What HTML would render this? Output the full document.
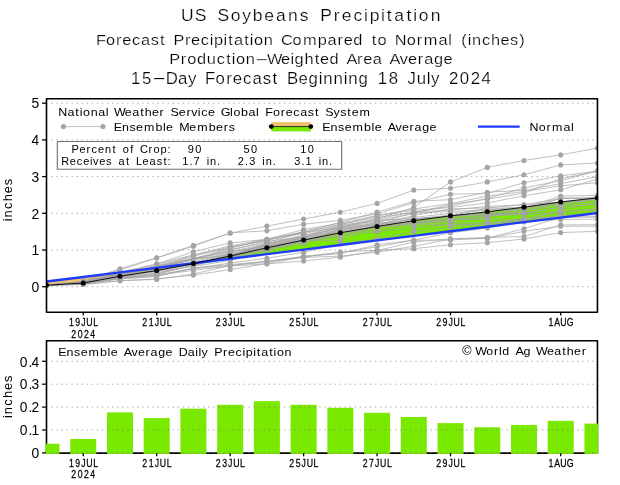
<!DOCTYPE html>
<html><head><meta charset="utf-8"><title>US Soybeans Precipitation</title>
<style>html,body{margin:0;padding:0;background:#fff}svg{display:block}</style></head>
<body>
<div style="will-change:transform;width:620px;height:485px;overflow:hidden">
<svg width="620" height="485" viewBox="0 0 620 485" font-family="'Liberation Sans', sans-serif" fill="#000">
<rect width="620" height="485" fill="#fff"/>
<text transform="scale(1.1,1)" x="170.36 182.37 192.67 202.96 214.11 224.12 234.12 244.70 255.28 266.14 276.44 285.87 296.45 306.17 315.04 325.33 332.76 340.48 348.20 353.92 362.78 371.65 377.36 385.08 395.95" y="20.80" font-size="15.9" text-anchor="middle" fill="#000" stroke="#fff" stroke-width="0.22">US Soybeans Precipitation</text>
<text transform="scale(1.12,1)" x="90.21 98.70 106.04 113.15 121.41 129.90 138.16 144.82 151.24 159.73 167.54 174.65 182.91 188.88 195.07 201.27 205.86 212.97 220.08 224.67 230.87 239.59 247.62 256.11 265.29 276.53 287.77 296.49 303.84 310.95 319.44 327.47 333.90 341.01 349.04 357.76 367.17 374.51 384.38 395.62 401.82 407.33 414.21 419.26 425.45 433.94 442.43 450.92 458.96 466.07" y="44.70" font-size="14.6" text-anchor="middle" fill="#000" stroke="#fff" stroke-width="0.22">Forecast Precipitation Compared to Normal (inches)</text>
<text transform="scale(1.12,1)" x="156.06 163.86 171.21 179.93 188.65 197.14 204.02 208.61 214.81 223.52 233.85 245.32 254.96 260.93 267.12 275.84 282.96 289.84 298.33 306.36 314.16 321.28 328.39 336.88 344.91 352.71 360.52 368.32 375.43 382.77 391.49 399.98" y="64.00" font-size="14.6" text-anchor="middle" fill="#000" stroke="#fff" stroke-width="0.22">Production<tspan font-size="16.4" dy="-0.47">–</tspan><tspan dy="0.47">Weighted Area Average</tspan></text>
<text transform="scale(1.05,1)" x="129.26 139.61 151.52 163.68 174.03 183.09 191.37 200.17 209.75 218.03 226.05 235.37 244.95 254.26 261.77 269.02 278.59 288.69 298.26 305.25 312.24 322.07 329.06 336.05 345.88 354.94 364.26 374.61 383.93 392.21 401.27 408.26 414.47 422.75 432.07 442.42 452.77 463.12" y="84.30" font-size="16.0" text-anchor="middle" fill="#000" stroke="#fff" stroke-width="0.22">15<tspan font-size="17.5" dy="-0.79">–</tspan><tspan dy="0.79">Day Forecast Beginning 18 July 2024</tspan></text>
<clipPath id="c1"><rect x="46.5" y="98.75" width="551.5500000000001" height="213.45"/></clipPath>
<g clip-path="url(#c1)">
<polygon points="46.50,281.56 83.23,276.99 119.96,272.42 156.69,267.85 193.42,263.28 197.13,262.82 193.42,263.58 156.69,270.55 119.96,276.24 83.23,283.03 46.50,285.23" fill="#f0c070"/>
<polygon points="197.13,262.82 230.15,256.06 266.88,247.80 303.61,240.09 340.34,232.75 377.07,226.51 413.80,220.64 450.53,215.87 487.26,211.83 523.99,207.24 560.72,201.92 597.45,197.89 597.45,213.01 560.72,217.58 523.99,222.15 487.26,226.72 450.53,231.29 413.80,235.86 377.07,240.43 340.34,245.00 303.61,249.57 266.88,254.14 230.15,258.71" fill="#7ae900"/>
</g>
<g clip-path="url(#c1)">
<g fill="none" stroke="#a5a5a5" stroke-width="0.7">
<polyline points="46.5,285.2 83.2,283.4 120.0,277.5 156.7,271.3 193.4,263.9 230.2,255.5 266.9,246.3 303.6,237.2 340.3,228.0 377.1,218.8 413.8,207.4 450.5,181.9 487.3,167.4 524.0,160.5 560.7,154.9 597.5,148.0"/>
<polyline points="46.5,285.2 83.2,281.2 120.0,268.7 156.7,257.7 193.4,245.4 230.2,233.2 266.9,226.1 303.6,219.0 340.3,212.2 377.1,203.4 413.8,190.0 450.5,188.3 487.3,181.9 524.0,174.8 560.7,164.9 597.5,163.0"/>
<polyline points="46.5,285.2 83.2,281.5 120.0,269.9 156.7,258.1 193.4,246.2 230.2,232.8 266.9,230.8 303.6,224.2 340.3,220.4 377.1,213.9 413.8,202.7 450.5,194.2 487.3,193.5 524.0,182.7 560.7,175.9 597.5,171.1"/>
<polyline points="46.5,285.2 83.2,282.1 120.0,272.2 156.7,264.1 193.4,254.8 230.2,245.8 266.9,239.2 303.6,231.9 340.3,224.5 377.1,217.3 413.8,212.4 450.5,206.1 487.3,198.4 524.0,187.9 560.7,180.7 597.5,170.8"/>
<polyline points="46.5,285.2 83.2,282.4 120.0,273.6 156.7,267.1 193.4,256.1 230.2,246.8 266.9,240.7 303.6,231.6 340.3,222.3 377.1,212.1 413.8,201.3 450.5,199.7 487.3,192.2 524.0,190.3 560.7,183.7 597.5,176.6"/>
<polyline points="46.5,285.2 83.2,282.4 120.0,272.8 156.7,263.9 193.4,251.7 230.2,242.9 266.9,239.3 303.6,229.5 340.3,223.2 377.1,215.4 413.8,209.0 450.5,203.6 487.3,196.1 524.0,191.6 560.7,185.8 597.5,182.7"/>
<polyline points="46.5,285.2 83.2,282.7 120.0,274.4 156.7,266.5 193.4,258.7 230.2,250.2 266.9,241.3 303.6,237.0 340.3,229.8 377.1,222.4 413.8,213.3 450.5,204.3 487.3,199.2 524.0,193.2 560.7,178.6 597.5,171.2"/>
<polyline points="46.5,285.2 83.2,282.2 120.0,273.5 156.7,265.5 193.4,255.6 230.2,248.1 266.9,239.8 303.6,232.6 340.3,224.4 377.1,216.0 413.8,210.3 450.5,207.5 487.3,202.9 524.0,195.8 560.7,189.8 597.5,179.1"/>
<polyline points="46.5,285.2 83.2,282.6 120.0,274.8 156.7,267.0 193.4,259.5 230.2,253.9 266.9,249.3 303.6,241.4 340.3,236.6 377.1,225.0 413.8,219.1 450.5,216.0 487.3,208.2 524.0,207.8 560.7,196.0 597.5,195.4"/>
<polyline points="46.5,285.2 83.2,282.4 120.0,274.3 156.7,267.9 193.4,259.7 230.2,247.7 266.9,239.4 303.6,233.6 340.3,226.4 377.1,218.8 413.8,212.0 450.5,210.0 487.3,206.4 524.0,204.7 560.7,202.1 597.5,197.7"/>
<polyline points="46.5,285.2 83.2,282.3 120.0,273.3 156.7,268.2 193.4,259.6 230.2,254.9 266.9,246.4 303.6,238.6 340.3,229.7 377.1,225.1 413.8,215.4 450.5,208.8 487.3,208.0 524.0,204.7 560.7,198.6 597.5,197.9"/>
<polyline points="46.5,285.2 83.2,282.6 120.0,273.9 156.7,265.8 193.4,258.1 230.2,251.6 266.9,243.8 303.6,236.1 340.3,227.6 377.1,223.3 413.8,222.3 450.5,220.8 487.3,217.7 524.0,206.8 560.7,204.0 597.5,196.3"/>
<polyline points="46.5,285.2 83.2,282.7 120.0,274.3 156.7,268.0 193.4,258.6 230.2,249.5 266.9,242.5 303.6,232.3 340.3,227.7 377.1,221.5 413.8,217.4 450.5,213.5 487.3,209.9 524.0,209.0 560.7,202.8 597.5,198.9"/>
<polyline points="46.5,285.2 83.2,282.7 120.0,274.4 156.7,269.1 193.4,263.8 230.2,253.5 266.9,247.9 303.6,239.5 340.3,235.0 377.1,226.1 413.8,222.8 450.5,216.6 487.3,211.4 524.0,209.0 560.7,198.4 597.5,198.2"/>
<polyline points="46.5,285.2 83.2,282.8 120.0,275.3 156.7,270.3 193.4,263.9 230.2,256.3 266.9,248.1 303.6,240.8 340.3,230.2 377.1,227.9 413.8,220.3 450.5,215.8 487.3,213.2 524.0,209.5 560.7,198.1 597.5,197.9"/>
<polyline points="46.5,285.2 83.2,282.9 120.0,274.7 156.7,266.9 193.4,259.2 230.2,251.7 266.9,246.3 303.6,240.8 340.3,235.4 377.1,231.7 413.8,227.5 450.5,224.3 487.3,224.1 524.0,219.6 560.7,209.4 597.5,203.4"/>
<polyline points="46.5,285.2 83.2,282.7 120.0,275.2 156.7,268.8 193.4,263.0 230.2,255.0 266.9,243.5 303.6,235.2 340.3,228.7 377.1,224.4 413.8,219.1 450.5,215.0 487.3,214.8 524.0,211.2 560.7,204.5 597.5,202.6"/>
<polyline points="46.5,285.2 83.2,283.2 120.0,276.6 156.7,270.7 193.4,262.9 230.2,255.7 266.9,243.6 303.6,237.8 340.3,226.8 377.1,220.6 413.8,213.2 450.5,211.4 487.3,209.8 524.0,206.9 560.7,202.9 597.5,199.8"/>
<polyline points="46.5,285.2 83.2,282.5 120.0,274.6 156.7,267.2 193.4,262.1 230.2,252.5 266.9,245.2 303.6,238.1 340.3,231.8 377.1,230.6 413.8,223.8 450.5,218.6 487.3,216.7 524.0,213.5 560.7,206.7 597.5,204.5"/>
<polyline points="46.5,285.2 83.2,282.8 120.0,275.2 156.7,269.9 193.4,262.7 230.2,256.0 266.9,250.2 303.6,240.5 340.3,240.3 377.1,226.1 413.8,224.0 450.5,220.1 487.3,215.9 524.0,211.4 560.7,202.3 597.5,198.6"/>
<polyline points="46.5,285.2 83.2,283.0 120.0,276.2 156.7,271.7 193.4,266.4 230.2,260.4 266.9,250.1 303.6,242.2 340.3,229.3 377.1,224.6 413.8,222.0 450.5,219.5 487.3,219.3 524.0,219.1 560.7,217.0 597.5,216.9"/>
<polyline points="46.5,285.2 83.2,283.3 120.0,275.8 156.7,270.9 193.4,264.2 230.2,257.5 266.9,249.8 303.6,243.2 340.3,232.7 377.1,227.0 413.8,224.7 450.5,224.6 487.3,224.4 524.0,221.5 560.7,214.9 597.5,214.6"/>
<polyline points="46.5,285.2 83.2,283.4 120.0,277.0 156.7,273.1 193.4,265.5 230.2,258.0 266.9,246.6 303.6,239.6 340.3,231.9 377.1,223.3 413.8,219.1 450.5,215.7 487.3,215.5 524.0,214.4 560.7,212.0 597.5,208.1"/>
<polyline points="46.5,285.2 83.2,283.5 120.0,278.2 156.7,274.4 193.4,264.7 230.2,255.3 266.9,244.1 303.6,236.0 340.3,225.2 377.1,220.4 413.8,218.5 450.5,217.4 487.3,213.8 524.0,213.7 560.7,206.7 597.5,198.4"/>
<polyline points="46.5,285.2 83.2,283.4 120.0,277.5 156.7,273.8 193.4,265.6 230.2,255.7 266.9,245.0 303.6,238.2 340.3,231.6 377.1,225.8 413.8,222.9 450.5,222.8 487.3,222.7 524.0,218.9 560.7,216.2 597.5,212.3"/>
<polyline points="46.5,285.2 83.2,283.7 120.0,279.0 156.7,276.4 193.4,268.4 230.2,263.0 266.9,258.2 303.6,252.3 340.3,243.9 377.1,238.8 413.8,231.5 450.5,227.0 487.3,223.8 524.0,219.9 560.7,211.4 597.5,210.1"/>
<polyline points="46.5,285.2 83.2,283.5 120.0,277.6 156.7,274.6 193.4,268.8 230.2,265.3 266.9,262.4 303.6,256.4 340.3,253.6 377.1,244.8 413.8,240.0 450.5,232.8 487.3,228.0 524.0,221.9 560.7,219.4 597.5,219.2"/>
<polyline points="46.5,285.2 83.2,284.0 120.0,278.6 156.7,276.2 193.4,267.9 230.2,264.6 266.9,261.1 303.6,257.4 340.3,256.1 377.1,252.2 413.8,246.2 450.5,239.1 487.3,238.5 524.0,231.3 560.7,226.3 597.5,226.2"/>
<polyline points="46.5,285.2 83.2,284.5 120.0,280.7 156.7,279.4 193.4,274.0 230.2,265.5 266.9,261.3 303.6,256.4 340.3,252.6 377.1,246.8 413.8,240.2 450.5,240.0 487.3,238.0 524.0,228.7 560.7,217.2 597.5,217.0"/>
<polyline points="46.5,285.2 83.2,283.8 120.0,278.7 156.7,275.2 193.4,270.3 230.2,266.0 266.9,263.9 303.6,261.0 340.3,257.2 377.1,250.6 413.8,242.0 450.5,238.8 487.3,237.3 524.0,236.6 560.7,224.9 597.5,224.7"/>
<polyline points="46.5,285.2 83.2,284.5 120.0,280.8 156.7,278.9 193.4,275.1 230.2,269.6 266.9,263.6 303.6,257.2 340.3,252.0 377.1,250.2 413.8,248.7 450.5,244.7 487.3,242.7 524.0,239.0 560.7,232.6 597.5,231.3"/>
</g>
<g fill="#a5a5a5">
<circle cx="83.2" cy="283.4" r="2.55"/>
<circle cx="120.0" cy="277.5" r="2.55"/>
<circle cx="156.7" cy="271.3" r="2.55"/>
<circle cx="193.4" cy="263.9" r="2.55"/>
<circle cx="230.2" cy="255.5" r="2.55"/>
<circle cx="266.9" cy="246.3" r="2.55"/>
<circle cx="303.6" cy="237.2" r="2.55"/>
<circle cx="340.3" cy="228.0" r="2.55"/>
<circle cx="377.1" cy="218.8" r="2.55"/>
<circle cx="413.8" cy="207.4" r="2.55"/>
<circle cx="450.5" cy="181.9" r="2.55"/>
<circle cx="487.3" cy="167.4" r="2.55"/>
<circle cx="524.0" cy="160.5" r="2.55"/>
<circle cx="560.7" cy="154.9" r="2.55"/>
<circle cx="597.5" cy="148.0" r="2.55"/>
<circle cx="83.2" cy="281.2" r="2.55"/>
<circle cx="120.0" cy="268.7" r="2.55"/>
<circle cx="156.7" cy="257.7" r="2.55"/>
<circle cx="193.4" cy="245.4" r="2.55"/>
<circle cx="230.2" cy="233.2" r="2.55"/>
<circle cx="266.9" cy="226.1" r="2.55"/>
<circle cx="303.6" cy="219.0" r="2.55"/>
<circle cx="340.3" cy="212.2" r="2.55"/>
<circle cx="377.1" cy="203.4" r="2.55"/>
<circle cx="413.8" cy="190.0" r="2.55"/>
<circle cx="450.5" cy="188.3" r="2.55"/>
<circle cx="487.3" cy="181.9" r="2.55"/>
<circle cx="524.0" cy="174.8" r="2.55"/>
<circle cx="560.7" cy="164.9" r="2.55"/>
<circle cx="597.5" cy="163.0" r="2.55"/>
<circle cx="83.2" cy="281.5" r="2.55"/>
<circle cx="120.0" cy="269.9" r="2.55"/>
<circle cx="156.7" cy="258.1" r="2.55"/>
<circle cx="193.4" cy="246.2" r="2.55"/>
<circle cx="230.2" cy="232.8" r="2.55"/>
<circle cx="266.9" cy="230.8" r="2.55"/>
<circle cx="303.6" cy="224.2" r="2.55"/>
<circle cx="340.3" cy="220.4" r="2.55"/>
<circle cx="377.1" cy="213.9" r="2.55"/>
<circle cx="413.8" cy="202.7" r="2.55"/>
<circle cx="450.5" cy="194.2" r="2.55"/>
<circle cx="487.3" cy="193.5" r="2.55"/>
<circle cx="524.0" cy="182.7" r="2.55"/>
<circle cx="560.7" cy="175.9" r="2.55"/>
<circle cx="597.5" cy="171.1" r="2.55"/>
<circle cx="83.2" cy="282.1" r="2.55"/>
<circle cx="120.0" cy="272.2" r="2.55"/>
<circle cx="156.7" cy="264.1" r="2.55"/>
<circle cx="193.4" cy="254.8" r="2.55"/>
<circle cx="230.2" cy="245.8" r="2.55"/>
<circle cx="266.9" cy="239.2" r="2.55"/>
<circle cx="303.6" cy="231.9" r="2.55"/>
<circle cx="340.3" cy="224.5" r="2.55"/>
<circle cx="377.1" cy="217.3" r="2.55"/>
<circle cx="413.8" cy="212.4" r="2.55"/>
<circle cx="450.5" cy="206.1" r="2.55"/>
<circle cx="487.3" cy="198.4" r="2.55"/>
<circle cx="524.0" cy="187.9" r="2.55"/>
<circle cx="560.7" cy="180.7" r="2.55"/>
<circle cx="597.5" cy="170.8" r="2.55"/>
<circle cx="83.2" cy="282.4" r="2.55"/>
<circle cx="120.0" cy="273.6" r="2.55"/>
<circle cx="156.7" cy="267.1" r="2.55"/>
<circle cx="193.4" cy="256.1" r="2.55"/>
<circle cx="230.2" cy="246.8" r="2.55"/>
<circle cx="266.9" cy="240.7" r="2.55"/>
<circle cx="303.6" cy="231.6" r="2.55"/>
<circle cx="340.3" cy="222.3" r="2.55"/>
<circle cx="377.1" cy="212.1" r="2.55"/>
<circle cx="413.8" cy="201.3" r="2.55"/>
<circle cx="450.5" cy="199.7" r="2.55"/>
<circle cx="487.3" cy="192.2" r="2.55"/>
<circle cx="524.0" cy="190.3" r="2.55"/>
<circle cx="560.7" cy="183.7" r="2.55"/>
<circle cx="597.5" cy="176.6" r="2.55"/>
<circle cx="83.2" cy="282.4" r="2.55"/>
<circle cx="120.0" cy="272.8" r="2.55"/>
<circle cx="156.7" cy="263.9" r="2.55"/>
<circle cx="193.4" cy="251.7" r="2.55"/>
<circle cx="230.2" cy="242.9" r="2.55"/>
<circle cx="266.9" cy="239.3" r="2.55"/>
<circle cx="303.6" cy="229.5" r="2.55"/>
<circle cx="340.3" cy="223.2" r="2.55"/>
<circle cx="377.1" cy="215.4" r="2.55"/>
<circle cx="413.8" cy="209.0" r="2.55"/>
<circle cx="450.5" cy="203.6" r="2.55"/>
<circle cx="487.3" cy="196.1" r="2.55"/>
<circle cx="524.0" cy="191.6" r="2.55"/>
<circle cx="560.7" cy="185.8" r="2.55"/>
<circle cx="597.5" cy="182.7" r="2.55"/>
<circle cx="83.2" cy="282.7" r="2.55"/>
<circle cx="120.0" cy="274.4" r="2.55"/>
<circle cx="156.7" cy="266.5" r="2.55"/>
<circle cx="193.4" cy="258.7" r="2.55"/>
<circle cx="230.2" cy="250.2" r="2.55"/>
<circle cx="266.9" cy="241.3" r="2.55"/>
<circle cx="303.6" cy="237.0" r="2.55"/>
<circle cx="340.3" cy="229.8" r="2.55"/>
<circle cx="377.1" cy="222.4" r="2.55"/>
<circle cx="413.8" cy="213.3" r="2.55"/>
<circle cx="450.5" cy="204.3" r="2.55"/>
<circle cx="487.3" cy="199.2" r="2.55"/>
<circle cx="524.0" cy="193.2" r="2.55"/>
<circle cx="560.7" cy="178.6" r="2.55"/>
<circle cx="597.5" cy="171.2" r="2.55"/>
<circle cx="83.2" cy="282.2" r="2.55"/>
<circle cx="120.0" cy="273.5" r="2.55"/>
<circle cx="156.7" cy="265.5" r="2.55"/>
<circle cx="193.4" cy="255.6" r="2.55"/>
<circle cx="230.2" cy="248.1" r="2.55"/>
<circle cx="266.9" cy="239.8" r="2.55"/>
<circle cx="303.6" cy="232.6" r="2.55"/>
<circle cx="340.3" cy="224.4" r="2.55"/>
<circle cx="377.1" cy="216.0" r="2.55"/>
<circle cx="413.8" cy="210.3" r="2.55"/>
<circle cx="450.5" cy="207.5" r="2.55"/>
<circle cx="487.3" cy="202.9" r="2.55"/>
<circle cx="524.0" cy="195.8" r="2.55"/>
<circle cx="560.7" cy="189.8" r="2.55"/>
<circle cx="597.5" cy="179.1" r="2.55"/>
<circle cx="83.2" cy="282.6" r="2.55"/>
<circle cx="120.0" cy="274.8" r="2.55"/>
<circle cx="156.7" cy="267.0" r="2.55"/>
<circle cx="193.4" cy="259.5" r="2.55"/>
<circle cx="230.2" cy="253.9" r="2.55"/>
<circle cx="266.9" cy="249.3" r="2.55"/>
<circle cx="303.6" cy="241.4" r="2.55"/>
<circle cx="340.3" cy="236.6" r="2.55"/>
<circle cx="377.1" cy="225.0" r="2.55"/>
<circle cx="413.8" cy="219.1" r="2.55"/>
<circle cx="450.5" cy="216.0" r="2.55"/>
<circle cx="487.3" cy="208.2" r="2.55"/>
<circle cx="524.0" cy="207.8" r="2.55"/>
<circle cx="560.7" cy="196.0" r="2.55"/>
<circle cx="597.5" cy="195.4" r="2.55"/>
<circle cx="83.2" cy="282.4" r="2.55"/>
<circle cx="120.0" cy="274.3" r="2.55"/>
<circle cx="156.7" cy="267.9" r="2.55"/>
<circle cx="193.4" cy="259.7" r="2.55"/>
<circle cx="230.2" cy="247.7" r="2.55"/>
<circle cx="266.9" cy="239.4" r="2.55"/>
<circle cx="303.6" cy="233.6" r="2.55"/>
<circle cx="340.3" cy="226.4" r="2.55"/>
<circle cx="377.1" cy="218.8" r="2.55"/>
<circle cx="413.8" cy="212.0" r="2.55"/>
<circle cx="450.5" cy="210.0" r="2.55"/>
<circle cx="487.3" cy="206.4" r="2.55"/>
<circle cx="524.0" cy="204.7" r="2.55"/>
<circle cx="560.7" cy="202.1" r="2.55"/>
<circle cx="597.5" cy="197.7" r="2.55"/>
<circle cx="83.2" cy="282.3" r="2.55"/>
<circle cx="120.0" cy="273.3" r="2.55"/>
<circle cx="156.7" cy="268.2" r="2.55"/>
<circle cx="193.4" cy="259.6" r="2.55"/>
<circle cx="230.2" cy="254.9" r="2.55"/>
<circle cx="266.9" cy="246.4" r="2.55"/>
<circle cx="303.6" cy="238.6" r="2.55"/>
<circle cx="340.3" cy="229.7" r="2.55"/>
<circle cx="377.1" cy="225.1" r="2.55"/>
<circle cx="413.8" cy="215.4" r="2.55"/>
<circle cx="450.5" cy="208.8" r="2.55"/>
<circle cx="487.3" cy="208.0" r="2.55"/>
<circle cx="524.0" cy="204.7" r="2.55"/>
<circle cx="560.7" cy="198.6" r="2.55"/>
<circle cx="597.5" cy="197.9" r="2.55"/>
<circle cx="83.2" cy="282.6" r="2.55"/>
<circle cx="120.0" cy="273.9" r="2.55"/>
<circle cx="156.7" cy="265.8" r="2.55"/>
<circle cx="193.4" cy="258.1" r="2.55"/>
<circle cx="230.2" cy="251.6" r="2.55"/>
<circle cx="266.9" cy="243.8" r="2.55"/>
<circle cx="303.6" cy="236.1" r="2.55"/>
<circle cx="340.3" cy="227.6" r="2.55"/>
<circle cx="377.1" cy="223.3" r="2.55"/>
<circle cx="413.8" cy="222.3" r="2.55"/>
<circle cx="450.5" cy="220.8" r="2.55"/>
<circle cx="487.3" cy="217.7" r="2.55"/>
<circle cx="524.0" cy="206.8" r="2.55"/>
<circle cx="560.7" cy="204.0" r="2.55"/>
<circle cx="597.5" cy="196.3" r="2.55"/>
<circle cx="83.2" cy="282.7" r="2.55"/>
<circle cx="120.0" cy="274.3" r="2.55"/>
<circle cx="156.7" cy="268.0" r="2.55"/>
<circle cx="193.4" cy="258.6" r="2.55"/>
<circle cx="230.2" cy="249.5" r="2.55"/>
<circle cx="266.9" cy="242.5" r="2.55"/>
<circle cx="303.6" cy="232.3" r="2.55"/>
<circle cx="340.3" cy="227.7" r="2.55"/>
<circle cx="377.1" cy="221.5" r="2.55"/>
<circle cx="413.8" cy="217.4" r="2.55"/>
<circle cx="450.5" cy="213.5" r="2.55"/>
<circle cx="487.3" cy="209.9" r="2.55"/>
<circle cx="524.0" cy="209.0" r="2.55"/>
<circle cx="560.7" cy="202.8" r="2.55"/>
<circle cx="597.5" cy="198.9" r="2.55"/>
<circle cx="83.2" cy="282.7" r="2.55"/>
<circle cx="120.0" cy="274.4" r="2.55"/>
<circle cx="156.7" cy="269.1" r="2.55"/>
<circle cx="193.4" cy="263.8" r="2.55"/>
<circle cx="230.2" cy="253.5" r="2.55"/>
<circle cx="266.9" cy="247.9" r="2.55"/>
<circle cx="303.6" cy="239.5" r="2.55"/>
<circle cx="340.3" cy="235.0" r="2.55"/>
<circle cx="377.1" cy="226.1" r="2.55"/>
<circle cx="413.8" cy="222.8" r="2.55"/>
<circle cx="450.5" cy="216.6" r="2.55"/>
<circle cx="487.3" cy="211.4" r="2.55"/>
<circle cx="524.0" cy="209.0" r="2.55"/>
<circle cx="560.7" cy="198.4" r="2.55"/>
<circle cx="597.5" cy="198.2" r="2.55"/>
<circle cx="83.2" cy="282.8" r="2.55"/>
<circle cx="120.0" cy="275.3" r="2.55"/>
<circle cx="156.7" cy="270.3" r="2.55"/>
<circle cx="193.4" cy="263.9" r="2.55"/>
<circle cx="230.2" cy="256.3" r="2.55"/>
<circle cx="266.9" cy="248.1" r="2.55"/>
<circle cx="303.6" cy="240.8" r="2.55"/>
<circle cx="340.3" cy="230.2" r="2.55"/>
<circle cx="377.1" cy="227.9" r="2.55"/>
<circle cx="413.8" cy="220.3" r="2.55"/>
<circle cx="450.5" cy="215.8" r="2.55"/>
<circle cx="487.3" cy="213.2" r="2.55"/>
<circle cx="524.0" cy="209.5" r="2.55"/>
<circle cx="560.7" cy="198.1" r="2.55"/>
<circle cx="597.5" cy="197.9" r="2.55"/>
<circle cx="83.2" cy="282.9" r="2.55"/>
<circle cx="120.0" cy="274.7" r="2.55"/>
<circle cx="156.7" cy="266.9" r="2.55"/>
<circle cx="193.4" cy="259.2" r="2.55"/>
<circle cx="230.2" cy="251.7" r="2.55"/>
<circle cx="266.9" cy="246.3" r="2.55"/>
<circle cx="303.6" cy="240.8" r="2.55"/>
<circle cx="340.3" cy="235.4" r="2.55"/>
<circle cx="377.1" cy="231.7" r="2.55"/>
<circle cx="413.8" cy="227.5" r="2.55"/>
<circle cx="450.5" cy="224.3" r="2.55"/>
<circle cx="487.3" cy="224.1" r="2.55"/>
<circle cx="524.0" cy="219.6" r="2.55"/>
<circle cx="560.7" cy="209.4" r="2.55"/>
<circle cx="597.5" cy="203.4" r="2.55"/>
<circle cx="83.2" cy="282.7" r="2.55"/>
<circle cx="120.0" cy="275.2" r="2.55"/>
<circle cx="156.7" cy="268.8" r="2.55"/>
<circle cx="193.4" cy="263.0" r="2.55"/>
<circle cx="230.2" cy="255.0" r="2.55"/>
<circle cx="266.9" cy="243.5" r="2.55"/>
<circle cx="303.6" cy="235.2" r="2.55"/>
<circle cx="340.3" cy="228.7" r="2.55"/>
<circle cx="377.1" cy="224.4" r="2.55"/>
<circle cx="413.8" cy="219.1" r="2.55"/>
<circle cx="450.5" cy="215.0" r="2.55"/>
<circle cx="487.3" cy="214.8" r="2.55"/>
<circle cx="524.0" cy="211.2" r="2.55"/>
<circle cx="560.7" cy="204.5" r="2.55"/>
<circle cx="597.5" cy="202.6" r="2.55"/>
<circle cx="83.2" cy="283.2" r="2.55"/>
<circle cx="120.0" cy="276.6" r="2.55"/>
<circle cx="156.7" cy="270.7" r="2.55"/>
<circle cx="193.4" cy="262.9" r="2.55"/>
<circle cx="230.2" cy="255.7" r="2.55"/>
<circle cx="266.9" cy="243.6" r="2.55"/>
<circle cx="303.6" cy="237.8" r="2.55"/>
<circle cx="340.3" cy="226.8" r="2.55"/>
<circle cx="377.1" cy="220.6" r="2.55"/>
<circle cx="413.8" cy="213.2" r="2.55"/>
<circle cx="450.5" cy="211.4" r="2.55"/>
<circle cx="487.3" cy="209.8" r="2.55"/>
<circle cx="524.0" cy="206.9" r="2.55"/>
<circle cx="560.7" cy="202.9" r="2.55"/>
<circle cx="597.5" cy="199.8" r="2.55"/>
<circle cx="83.2" cy="282.5" r="2.55"/>
<circle cx="120.0" cy="274.6" r="2.55"/>
<circle cx="156.7" cy="267.2" r="2.55"/>
<circle cx="193.4" cy="262.1" r="2.55"/>
<circle cx="230.2" cy="252.5" r="2.55"/>
<circle cx="266.9" cy="245.2" r="2.55"/>
<circle cx="303.6" cy="238.1" r="2.55"/>
<circle cx="340.3" cy="231.8" r="2.55"/>
<circle cx="377.1" cy="230.6" r="2.55"/>
<circle cx="413.8" cy="223.8" r="2.55"/>
<circle cx="450.5" cy="218.6" r="2.55"/>
<circle cx="487.3" cy="216.7" r="2.55"/>
<circle cx="524.0" cy="213.5" r="2.55"/>
<circle cx="560.7" cy="206.7" r="2.55"/>
<circle cx="597.5" cy="204.5" r="2.55"/>
<circle cx="83.2" cy="282.8" r="2.55"/>
<circle cx="120.0" cy="275.2" r="2.55"/>
<circle cx="156.7" cy="269.9" r="2.55"/>
<circle cx="193.4" cy="262.7" r="2.55"/>
<circle cx="230.2" cy="256.0" r="2.55"/>
<circle cx="266.9" cy="250.2" r="2.55"/>
<circle cx="303.6" cy="240.5" r="2.55"/>
<circle cx="340.3" cy="240.3" r="2.55"/>
<circle cx="377.1" cy="226.1" r="2.55"/>
<circle cx="413.8" cy="224.0" r="2.55"/>
<circle cx="450.5" cy="220.1" r="2.55"/>
<circle cx="487.3" cy="215.9" r="2.55"/>
<circle cx="524.0" cy="211.4" r="2.55"/>
<circle cx="560.7" cy="202.3" r="2.55"/>
<circle cx="597.5" cy="198.6" r="2.55"/>
<circle cx="83.2" cy="283.0" r="2.55"/>
<circle cx="120.0" cy="276.2" r="2.55"/>
<circle cx="156.7" cy="271.7" r="2.55"/>
<circle cx="193.4" cy="266.4" r="2.55"/>
<circle cx="230.2" cy="260.4" r="2.55"/>
<circle cx="266.9" cy="250.1" r="2.55"/>
<circle cx="303.6" cy="242.2" r="2.55"/>
<circle cx="340.3" cy="229.3" r="2.55"/>
<circle cx="377.1" cy="224.6" r="2.55"/>
<circle cx="413.8" cy="222.0" r="2.55"/>
<circle cx="450.5" cy="219.5" r="2.55"/>
<circle cx="487.3" cy="219.3" r="2.55"/>
<circle cx="524.0" cy="219.1" r="2.55"/>
<circle cx="560.7" cy="217.0" r="2.55"/>
<circle cx="597.5" cy="216.9" r="2.55"/>
<circle cx="83.2" cy="283.3" r="2.55"/>
<circle cx="120.0" cy="275.8" r="2.55"/>
<circle cx="156.7" cy="270.9" r="2.55"/>
<circle cx="193.4" cy="264.2" r="2.55"/>
<circle cx="230.2" cy="257.5" r="2.55"/>
<circle cx="266.9" cy="249.8" r="2.55"/>
<circle cx="303.6" cy="243.2" r="2.55"/>
<circle cx="340.3" cy="232.7" r="2.55"/>
<circle cx="377.1" cy="227.0" r="2.55"/>
<circle cx="413.8" cy="224.7" r="2.55"/>
<circle cx="450.5" cy="224.6" r="2.55"/>
<circle cx="487.3" cy="224.4" r="2.55"/>
<circle cx="524.0" cy="221.5" r="2.55"/>
<circle cx="560.7" cy="214.9" r="2.55"/>
<circle cx="597.5" cy="214.6" r="2.55"/>
<circle cx="83.2" cy="283.4" r="2.55"/>
<circle cx="120.0" cy="277.0" r="2.55"/>
<circle cx="156.7" cy="273.1" r="2.55"/>
<circle cx="193.4" cy="265.5" r="2.55"/>
<circle cx="230.2" cy="258.0" r="2.55"/>
<circle cx="266.9" cy="246.6" r="2.55"/>
<circle cx="303.6" cy="239.6" r="2.55"/>
<circle cx="340.3" cy="231.9" r="2.55"/>
<circle cx="377.1" cy="223.3" r="2.55"/>
<circle cx="413.8" cy="219.1" r="2.55"/>
<circle cx="450.5" cy="215.7" r="2.55"/>
<circle cx="487.3" cy="215.5" r="2.55"/>
<circle cx="524.0" cy="214.4" r="2.55"/>
<circle cx="560.7" cy="212.0" r="2.55"/>
<circle cx="597.5" cy="208.1" r="2.55"/>
<circle cx="83.2" cy="283.5" r="2.55"/>
<circle cx="120.0" cy="278.2" r="2.55"/>
<circle cx="156.7" cy="274.4" r="2.55"/>
<circle cx="193.4" cy="264.7" r="2.55"/>
<circle cx="230.2" cy="255.3" r="2.55"/>
<circle cx="266.9" cy="244.1" r="2.55"/>
<circle cx="303.6" cy="236.0" r="2.55"/>
<circle cx="340.3" cy="225.2" r="2.55"/>
<circle cx="377.1" cy="220.4" r="2.55"/>
<circle cx="413.8" cy="218.5" r="2.55"/>
<circle cx="450.5" cy="217.4" r="2.55"/>
<circle cx="487.3" cy="213.8" r="2.55"/>
<circle cx="524.0" cy="213.7" r="2.55"/>
<circle cx="560.7" cy="206.7" r="2.55"/>
<circle cx="597.5" cy="198.4" r="2.55"/>
<circle cx="83.2" cy="283.4" r="2.55"/>
<circle cx="120.0" cy="277.5" r="2.55"/>
<circle cx="156.7" cy="273.8" r="2.55"/>
<circle cx="193.4" cy="265.6" r="2.55"/>
<circle cx="230.2" cy="255.7" r="2.55"/>
<circle cx="266.9" cy="245.0" r="2.55"/>
<circle cx="303.6" cy="238.2" r="2.55"/>
<circle cx="340.3" cy="231.6" r="2.55"/>
<circle cx="377.1" cy="225.8" r="2.55"/>
<circle cx="413.8" cy="222.9" r="2.55"/>
<circle cx="450.5" cy="222.8" r="2.55"/>
<circle cx="487.3" cy="222.7" r="2.55"/>
<circle cx="524.0" cy="218.9" r="2.55"/>
<circle cx="560.7" cy="216.2" r="2.55"/>
<circle cx="597.5" cy="212.3" r="2.55"/>
<circle cx="83.2" cy="283.7" r="2.55"/>
<circle cx="120.0" cy="279.0" r="2.55"/>
<circle cx="156.7" cy="276.4" r="2.55"/>
<circle cx="193.4" cy="268.4" r="2.55"/>
<circle cx="230.2" cy="263.0" r="2.55"/>
<circle cx="266.9" cy="258.2" r="2.55"/>
<circle cx="303.6" cy="252.3" r="2.55"/>
<circle cx="340.3" cy="243.9" r="2.55"/>
<circle cx="377.1" cy="238.8" r="2.55"/>
<circle cx="413.8" cy="231.5" r="2.55"/>
<circle cx="450.5" cy="227.0" r="2.55"/>
<circle cx="487.3" cy="223.8" r="2.55"/>
<circle cx="524.0" cy="219.9" r="2.55"/>
<circle cx="560.7" cy="211.4" r="2.55"/>
<circle cx="597.5" cy="210.1" r="2.55"/>
<circle cx="83.2" cy="283.5" r="2.55"/>
<circle cx="120.0" cy="277.6" r="2.55"/>
<circle cx="156.7" cy="274.6" r="2.55"/>
<circle cx="193.4" cy="268.8" r="2.55"/>
<circle cx="230.2" cy="265.3" r="2.55"/>
<circle cx="266.9" cy="262.4" r="2.55"/>
<circle cx="303.6" cy="256.4" r="2.55"/>
<circle cx="340.3" cy="253.6" r="2.55"/>
<circle cx="377.1" cy="244.8" r="2.55"/>
<circle cx="413.8" cy="240.0" r="2.55"/>
<circle cx="450.5" cy="232.8" r="2.55"/>
<circle cx="487.3" cy="228.0" r="2.55"/>
<circle cx="524.0" cy="221.9" r="2.55"/>
<circle cx="560.7" cy="219.4" r="2.55"/>
<circle cx="597.5" cy="219.2" r="2.55"/>
<circle cx="83.2" cy="284.0" r="2.55"/>
<circle cx="120.0" cy="278.6" r="2.55"/>
<circle cx="156.7" cy="276.2" r="2.55"/>
<circle cx="193.4" cy="267.9" r="2.55"/>
<circle cx="230.2" cy="264.6" r="2.55"/>
<circle cx="266.9" cy="261.1" r="2.55"/>
<circle cx="303.6" cy="257.4" r="2.55"/>
<circle cx="340.3" cy="256.1" r="2.55"/>
<circle cx="377.1" cy="252.2" r="2.55"/>
<circle cx="413.8" cy="246.2" r="2.55"/>
<circle cx="450.5" cy="239.1" r="2.55"/>
<circle cx="487.3" cy="238.5" r="2.55"/>
<circle cx="524.0" cy="231.3" r="2.55"/>
<circle cx="560.7" cy="226.3" r="2.55"/>
<circle cx="597.5" cy="226.2" r="2.55"/>
<circle cx="83.2" cy="284.5" r="2.55"/>
<circle cx="120.0" cy="280.7" r="2.55"/>
<circle cx="156.7" cy="279.4" r="2.55"/>
<circle cx="193.4" cy="274.0" r="2.55"/>
<circle cx="230.2" cy="265.5" r="2.55"/>
<circle cx="266.9" cy="261.3" r="2.55"/>
<circle cx="303.6" cy="256.4" r="2.55"/>
<circle cx="340.3" cy="252.6" r="2.55"/>
<circle cx="377.1" cy="246.8" r="2.55"/>
<circle cx="413.8" cy="240.2" r="2.55"/>
<circle cx="450.5" cy="240.0" r="2.55"/>
<circle cx="487.3" cy="238.0" r="2.55"/>
<circle cx="524.0" cy="228.7" r="2.55"/>
<circle cx="560.7" cy="217.2" r="2.55"/>
<circle cx="597.5" cy="217.0" r="2.55"/>
<circle cx="83.2" cy="283.8" r="2.55"/>
<circle cx="120.0" cy="278.7" r="2.55"/>
<circle cx="156.7" cy="275.2" r="2.55"/>
<circle cx="193.4" cy="270.3" r="2.55"/>
<circle cx="230.2" cy="266.0" r="2.55"/>
<circle cx="266.9" cy="263.9" r="2.55"/>
<circle cx="303.6" cy="261.0" r="2.55"/>
<circle cx="340.3" cy="257.2" r="2.55"/>
<circle cx="377.1" cy="250.6" r="2.55"/>
<circle cx="413.8" cy="242.0" r="2.55"/>
<circle cx="450.5" cy="238.8" r="2.55"/>
<circle cx="487.3" cy="237.3" r="2.55"/>
<circle cx="524.0" cy="236.6" r="2.55"/>
<circle cx="560.7" cy="224.9" r="2.55"/>
<circle cx="597.5" cy="224.7" r="2.55"/>
<circle cx="83.2" cy="284.5" r="2.55"/>
<circle cx="120.0" cy="280.8" r="2.55"/>
<circle cx="156.7" cy="278.9" r="2.55"/>
<circle cx="193.4" cy="275.1" r="2.55"/>
<circle cx="230.2" cy="269.6" r="2.55"/>
<circle cx="266.9" cy="263.6" r="2.55"/>
<circle cx="303.6" cy="257.2" r="2.55"/>
<circle cx="340.3" cy="252.0" r="2.55"/>
<circle cx="377.1" cy="250.2" r="2.55"/>
<circle cx="413.8" cy="248.7" r="2.55"/>
<circle cx="450.5" cy="244.7" r="2.55"/>
<circle cx="487.3" cy="242.7" r="2.55"/>
<circle cx="524.0" cy="239.0" r="2.55"/>
<circle cx="560.7" cy="232.6" r="2.55"/>
<circle cx="597.5" cy="231.3" r="2.55"/>
</g>
<polyline fill="none" stroke="#1e3cff" stroke-width="2.4" points="46.50,281.56 83.23,276.99 119.96,272.42 156.69,267.85 193.42,263.28 230.15,258.71 266.88,254.14 303.61,249.57 340.34,245.00 377.07,240.43 413.80,235.86 450.53,231.29 487.26,226.72 523.99,222.15 560.72,217.58 597.45,213.01"/>
<polyline fill="none" stroke="#000" stroke-width="0.9" points="46.50,285.23 83.23,283.03 119.96,276.24 156.69,270.55 193.42,263.58 230.15,256.06 266.88,247.80 303.61,240.09 340.34,232.75 377.07,226.51 413.80,220.64 450.53,215.87 487.26,211.83 523.99,207.24 560.72,201.92 597.45,197.89"/>
<circle cx="46.50" cy="285.23" r="2.5" fill="#000"/>
<circle cx="83.23" cy="283.03" r="2.5" fill="#000"/>
<circle cx="119.96" cy="276.24" r="2.5" fill="#000"/>
<circle cx="156.69" cy="270.55" r="2.5" fill="#000"/>
<circle cx="193.42" cy="263.58" r="2.5" fill="#000"/>
<circle cx="230.15" cy="256.06" r="2.5" fill="#000"/>
<circle cx="266.88" cy="247.80" r="2.5" fill="#000"/>
<circle cx="303.61" cy="240.09" r="2.5" fill="#000"/>
<circle cx="340.34" cy="232.75" r="2.5" fill="#000"/>
<circle cx="377.07" cy="226.51" r="2.5" fill="#000"/>
<circle cx="413.80" cy="220.64" r="2.5" fill="#000"/>
<circle cx="450.53" cy="215.87" r="2.5" fill="#000"/>
<circle cx="487.26" cy="211.83" r="2.5" fill="#000"/>
<circle cx="523.99" cy="207.24" r="2.5" fill="#000"/>
<circle cx="560.72" cy="201.92" r="2.5" fill="#000"/>
<circle cx="597.45" cy="197.89" r="2.5" fill="#000"/>
</g>
<line x1="51.3" x2="594.45" y1="286.70" y2="286.70" stroke="#787878" stroke-opacity="0.62" stroke-width="1" stroke-dasharray="1.4 3.656"/>
<line x1="51.3" x2="594.45" y1="250.00" y2="250.00" stroke="#787878" stroke-opacity="0.62" stroke-width="1" stroke-dasharray="1.4 3.656"/>
<line x1="51.3" x2="594.45" y1="213.30" y2="213.30" stroke="#787878" stroke-opacity="0.62" stroke-width="1" stroke-dasharray="1.4 3.656"/>
<line x1="51.3" x2="594.45" y1="176.60" y2="176.60" stroke="#787878" stroke-opacity="0.62" stroke-width="1" stroke-dasharray="1.4 3.656"/>
<line x1="51.3" x2="594.45" y1="139.90" y2="139.90" stroke="#787878" stroke-opacity="0.62" stroke-width="1" stroke-dasharray="1.4 3.656"/>
<line x1="51.3" x2="594.45" y1="103.20" y2="103.20" stroke="#787878" stroke-opacity="0.62" stroke-width="1" stroke-dasharray="1.4 3.656"/>
<rect x="46.5" y="98.75" width="550.95" height="213.45" fill="none" stroke="#000" stroke-width="1.6" stroke-linejoin="round"/>
<line x1="42.1" x2="46.5" y1="286.70" y2="286.70" stroke="#000" stroke-width="1.3"/>
<text transform="scale(0.95,1)" x="37.16" y="292.00" font-size="14.6" text-anchor="middle" fill="#000">0</text>
<line x1="42.1" x2="46.5" y1="250.00" y2="250.00" stroke="#000" stroke-width="1.3"/>
<text transform="scale(0.95,1)" x="37.16" y="255.30" font-size="14.6" text-anchor="middle" fill="#000">1</text>
<line x1="42.1" x2="46.5" y1="213.30" y2="213.30" stroke="#000" stroke-width="1.3"/>
<text transform="scale(0.95,1)" x="37.16" y="218.60" font-size="14.6" text-anchor="middle" fill="#000">2</text>
<line x1="42.1" x2="46.5" y1="176.60" y2="176.60" stroke="#000" stroke-width="1.3"/>
<text transform="scale(0.95,1)" x="37.16" y="181.90" font-size="14.6" text-anchor="middle" fill="#000">3</text>
<line x1="42.1" x2="46.5" y1="139.90" y2="139.90" stroke="#000" stroke-width="1.3"/>
<text transform="scale(0.95,1)" x="37.16" y="145.20" font-size="14.6" text-anchor="middle" fill="#000">4</text>
<line x1="42.1" x2="46.5" y1="103.20" y2="103.20" stroke="#000" stroke-width="1.3"/>
<text transform="scale(0.95,1)" x="37.16" y="108.50" font-size="14.6" text-anchor="middle" fill="#000">5</text>
<line x1="83.23" x2="83.23" y1="312.2" y2="315.4" stroke="#000" stroke-width="1.3"/>
<text transform="scale(0.8,1)" x="89.18 97.10 104.24 111.76 119.49" y="326.40" font-size="10.9" text-anchor="middle" fill="#000" stroke="#000" stroke-width="0.25">19JUL</text>
<line x1="156.69" x2="156.69" y1="312.2" y2="315.4" stroke="#000" stroke-width="1.3"/>
<text transform="scale(0.8,1)" x="181.00 188.93 196.06 203.59 211.32" y="326.40" font-size="10.9" text-anchor="middle" fill="#000" stroke="#000" stroke-width="0.25">21JUL</text>
<line x1="230.15" x2="230.15" y1="312.2" y2="315.4" stroke="#000" stroke-width="1.3"/>
<text transform="scale(0.8,1)" x="272.83 280.75 287.89 295.41 303.14" y="326.40" font-size="10.9" text-anchor="middle" fill="#000" stroke="#000" stroke-width="0.25">23JUL</text>
<line x1="303.61" x2="303.61" y1="312.2" y2="315.4" stroke="#000" stroke-width="1.3"/>
<text transform="scale(0.8,1)" x="364.65 372.58 379.71 387.24 394.97" y="326.40" font-size="10.9" text-anchor="middle" fill="#000" stroke="#000" stroke-width="0.25">25JUL</text>
<line x1="377.07" x2="377.07" y1="312.2" y2="315.4" stroke="#000" stroke-width="1.3"/>
<text transform="scale(0.8,1)" x="456.48 464.40 471.54 479.06 486.79" y="326.40" font-size="10.9" text-anchor="middle" fill="#000" stroke="#000" stroke-width="0.25">27JUL</text>
<line x1="450.53" x2="450.53" y1="312.2" y2="315.4" stroke="#000" stroke-width="1.3"/>
<text transform="scale(0.8,1)" x="548.30 556.23 563.36 570.89 578.62" y="326.40" font-size="10.9" text-anchor="middle" fill="#000" stroke="#000" stroke-width="0.25">29JUL</text>
<line x1="560.72" x2="560.72" y1="312.2" y2="315.4" stroke="#000" stroke-width="1.3"/>
<text transform="scale(0.8,1)" x="688.81 696.34 704.27 712.79" y="326.40" font-size="10.9" text-anchor="middle" fill="#000" stroke="#000" stroke-width="0.25">1AUG</text>
<text transform="scale(0.8,1)" x="92.15 100.08 108.00 115.93" y="337.90" font-size="10.9" text-anchor="middle" fill="#000" stroke="#000" stroke-width="0.25">2024</text>
<text transform="translate(12.1,221.5) rotate(-90) scale(1.0,1)" x="1.74 7.61 15.66 23.71 31.76 39.37" y="0" font-size="12.8" text-anchor="middle" fill="#000">inches</text>
<text transform="scale(1.2,1)" x="52.25 59.08 64.25 67.58 72.08 78.42 84.75 89.25 93.25 99.92 106.92 113.08 118.25 123.42 129.58 134.75 139.58 145.58 151.92 157.08 161.92 165.92 170.25 176.25 181.92 188.08 192.92 197.42 203.75 210.08 214.58 218.58 224.25 230.42 235.75 240.92 246.92 253.08 259.08 263.92 268.58 274.58 280.58 286.08 290.92 295.92 303.92" y="116.20" font-size="10.4" text-anchor="middle" fill="#000">National Weather Service Global Forecast System</text>
<line x1="63.4" x2="102.9" y1="126.6" y2="126.6" stroke="#a5a5a5" stroke-width="0.7"/>
<circle cx="63.4" cy="126.6" r="2.55" fill="#a5a5a5"/><circle cx="102.9" cy="126.6" r="2.55" fill="#a5a5a5"/>
<text transform="scale(1.2,1)" x="98.17 104.50 110.50 116.33 124.33 132.50 137.00 141.33 147.00 153.67 160.67 168.67 176.83 183.00 188.17 193.17" y="131.20" font-size="10.4" text-anchor="middle" fill="#000">Ensemble Members</text>
<rect x="271.3" y="122.2" width="39.5" height="4.4" fill="#f0c070"/><rect x="271.3" y="126.6" width="39.5" height="4.8" fill="#7ae900"/>
<line x1="271.3" x2="310.8" y1="126.6" y2="126.6" stroke="#000" stroke-width="0.8"/>
<circle cx="271.3" cy="126.6" r="2.4"/><circle cx="310.8" cy="126.6" r="2.4"/>
<text transform="scale(1.2,1)" x="272.00 278.33 284.33 290.17 298.17 306.33 310.83 315.17 320.83 326.50 332.17 337.83 343.00 348.33 354.67 360.83" y="131.20" font-size="10.4" text-anchor="middle" fill="#000">Ensemble Average</text>
<line x1="477.9" x2="519.7" y1="126.6" y2="126.6" stroke="#1e3cff" stroke-width="2.4"/>
<text transform="scale(1.2,1)" x="445.08 451.92 457.25 464.42 472.58 477.08" y="131.20" font-size="10.4" text-anchor="middle" fill="#000">Normal</text>
<rect x="57.3" y="141.5" width="284.4" height="27.8" stroke-linejoin="round" fill="#fff" stroke="#707070" stroke-width="1.1"/>
<text transform="scale(1.1,1)" x="68.34 75.04 80.37 85.70 91.88 98.24 103.57 108.38 114.39 119.72 124.53 130.88 136.73 142.22 148.75 153.74" y="153.40" font-size="10.0" text-anchor="middle" fill="#000">Percent of Crop:</text>
<text transform="scale(1.1,1)" x="59.41 66.11 72.29 78.48 82.95 87.07 92.91 98.93 104.60 110.61 115.94 120.75 126.42 132.43 138.79 144.97 149.96 153.74" y="165.20" font-size="10.0" text-anchor="middle" fill="#000">Receives at Least:</text>
<text transform="scale(1.1,1)" x="173.47 180.35" y="153.40" font-size="10.0" text-anchor="middle" fill="#000">90</text>
<text transform="scale(1.1,1)" x="224.11 230.98" y="153.40" font-size="10.0" text-anchor="middle" fill="#000">50</text>
<text transform="scale(1.1,1)" x="275.75 282.62" y="153.40" font-size="10.0" text-anchor="middle" fill="#000">10</text>
<text transform="scale(1.1,1)" x="168.47 173.62 178.78 184.96 189.08 193.72 198.71" y="165.20" font-size="10.0" text-anchor="middle" fill="#000">1.7 in.</text>
<text transform="scale(1.1,1)" x="219.01 224.17 229.32 235.51 239.63 244.27 249.25" y="165.20" font-size="10.0" text-anchor="middle" fill="#000">2.3 in.</text>
<text transform="scale(1.1,1)" x="270.28 275.44 280.59 286.78 290.90 295.54 300.52" y="165.20" font-size="10.0" text-anchor="middle" fill="#000">3.1 in.</text>
<rect x="46.5" y="340.7" width="550.95" height="112.44999999999999" fill="none" stroke="#000" stroke-width="1.6" stroke-linejoin="round"/>
<clipPath id="c2"><rect x="45.6" y="340.7" width="552.5500000000001" height="113.44999999999999"/></clipPath>
<g clip-path="url(#c2)" fill="#7ae900">
<rect x="33.50" y="443.74" width="26.0" height="10.21"/>
<rect x="70.23" y="439.00" width="26.0" height="14.95"/>
<rect x="106.96" y="412.37" width="26.0" height="41.58"/>
<rect x="143.69" y="418.09" width="26.0" height="35.86"/>
<rect x="180.42" y="408.70" width="26.0" height="45.25"/>
<rect x="217.15" y="404.81" width="26.0" height="49.14"/>
<rect x="253.88" y="401.15" width="26.0" height="52.80"/>
<rect x="290.61" y="404.81" width="26.0" height="49.14"/>
<rect x="327.34" y="407.79" width="26.0" height="46.16"/>
<rect x="364.07" y="412.82" width="26.0" height="41.12"/>
<rect x="400.80" y="416.95" width="26.0" height="37.00"/>
<rect x="437.53" y="423.13" width="26.0" height="30.82"/>
<rect x="474.26" y="427.25" width="26.0" height="26.70"/>
<rect x="510.99" y="424.96" width="26.0" height="28.99"/>
<rect x="547.72" y="420.84" width="26.0" height="33.11"/>
<rect x="584.45" y="423.59" width="26.0" height="30.36"/>
</g>
<line x1="51.3" x2="594.45" y1="452.90" y2="452.90" stroke="#787878" stroke-opacity="0.62" stroke-width="1" stroke-dasharray="1.4 3.656"/>
<line x1="51.3" x2="594.45" y1="430.00" y2="430.00" stroke="#787878" stroke-opacity="0.62" stroke-width="1" stroke-dasharray="1.4 3.656"/>
<line x1="51.3" x2="594.45" y1="407.10" y2="407.10" stroke="#787878" stroke-opacity="0.62" stroke-width="1" stroke-dasharray="1.4 3.656"/>
<line x1="51.3" x2="594.45" y1="384.20" y2="384.20" stroke="#787878" stroke-opacity="0.62" stroke-width="1" stroke-dasharray="1.4 3.656"/>
<line x1="51.3" x2="594.45" y1="361.30" y2="361.30" stroke="#787878" stroke-opacity="0.62" stroke-width="1" stroke-dasharray="1.4 3.656"/>
<line x1="42.1" x2="45.8" y1="452.90" y2="452.90" stroke="#000" stroke-width="1.3"/>
<text transform="scale(0.95,1)" x="37.16" y="458.20" font-size="14.6" text-anchor="middle" fill="#000">0</text>
<line x1="42.1" x2="45.8" y1="430.00" y2="430.00" stroke="#000" stroke-width="1.3"/>
<text transform="scale(0.95,1)" x="24.74 32.00 37.16" y="435.30" font-size="14.6" text-anchor="middle" fill="#000">0.1</text>
<line x1="42.1" x2="45.8" y1="407.10" y2="407.10" stroke="#000" stroke-width="1.3"/>
<text transform="scale(0.95,1)" x="24.74 32.00 37.16" y="412.40" font-size="14.6" text-anchor="middle" fill="#000">0.2</text>
<line x1="42.1" x2="45.8" y1="384.20" y2="384.20" stroke="#000" stroke-width="1.3"/>
<text transform="scale(0.95,1)" x="24.74 32.00 37.16" y="389.50" font-size="14.6" text-anchor="middle" fill="#000">0.3</text>
<line x1="42.1" x2="45.8" y1="361.30" y2="361.30" stroke="#000" stroke-width="1.3"/>
<text transform="scale(0.95,1)" x="24.74 32.00 37.16" y="366.60" font-size="14.6" text-anchor="middle" fill="#000">0.4</text>
<line x1="83.23" x2="83.23" y1="453.15" y2="456.34999999999997" stroke="#000" stroke-width="1.3"/>
<text transform="scale(0.8,1)" x="89.18 97.10 104.24 111.76 119.49" y="467.00" font-size="10.9" text-anchor="middle" fill="#000" stroke="#000" stroke-width="0.25">19JUL</text>
<line x1="156.69" x2="156.69" y1="453.15" y2="456.34999999999997" stroke="#000" stroke-width="1.3"/>
<text transform="scale(0.8,1)" x="181.00 188.93 196.06 203.59 211.32" y="467.00" font-size="10.9" text-anchor="middle" fill="#000" stroke="#000" stroke-width="0.25">21JUL</text>
<line x1="230.15" x2="230.15" y1="453.15" y2="456.34999999999997" stroke="#000" stroke-width="1.3"/>
<text transform="scale(0.8,1)" x="272.83 280.75 287.89 295.41 303.14" y="467.00" font-size="10.9" text-anchor="middle" fill="#000" stroke="#000" stroke-width="0.25">23JUL</text>
<line x1="303.61" x2="303.61" y1="453.15" y2="456.34999999999997" stroke="#000" stroke-width="1.3"/>
<text transform="scale(0.8,1)" x="364.65 372.58 379.71 387.24 394.97" y="467.00" font-size="10.9" text-anchor="middle" fill="#000" stroke="#000" stroke-width="0.25">25JUL</text>
<line x1="377.07" x2="377.07" y1="453.15" y2="456.34999999999997" stroke="#000" stroke-width="1.3"/>
<text transform="scale(0.8,1)" x="456.48 464.40 471.54 479.06 486.79" y="467.00" font-size="10.9" text-anchor="middle" fill="#000" stroke="#000" stroke-width="0.25">27JUL</text>
<line x1="450.53" x2="450.53" y1="453.15" y2="456.34999999999997" stroke="#000" stroke-width="1.3"/>
<text transform="scale(0.8,1)" x="548.30 556.23 563.36 570.89 578.62" y="467.00" font-size="10.9" text-anchor="middle" fill="#000" stroke="#000" stroke-width="0.25">29JUL</text>
<line x1="560.72" x2="560.72" y1="453.15" y2="456.34999999999997" stroke="#000" stroke-width="1.3"/>
<text transform="scale(0.8,1)" x="688.81 696.34 704.27 712.79" y="467.00" font-size="10.9" text-anchor="middle" fill="#000" stroke="#000" stroke-width="0.25">1AUG</text>
<text transform="scale(0.8,1)" x="92.15 100.08 108.00 115.93" y="477.90" font-size="10.9" text-anchor="middle" fill="#000" stroke="#000" stroke-width="0.25">2024</text>
<text transform="translate(11.7,418.2) rotate(-90) scale(1.0,1)" x="1.74 7.61 15.66 23.71 31.76 39.37" y="0" font-size="12.8" text-anchor="middle" fill="#000">inches</text>
<text transform="scale(1.2,1)" x="52.00 58.33 64.33 70.17 78.17 86.33 90.83 95.17 100.83 106.50 112.17 117.83 123.00 128.33 134.67 140.83 146.50 152.67 159.33 163.83 166.50 170.50 175.83 182.00 187.67 192.83 198.83 203.17 207.67 212.17 215.50 220.67 225.83 229.17 233.67 240.00" y="355.60" font-size="10.4" text-anchor="middle" fill="#000">Ensemble Average Daily Precipitation</text>
<text x="467.00" y="355.30" font-size="12.6" text-anchor="middle" fill="#000">©</text>
<text transform="scale(1.2,1)" x="401.00 408.17 413.50 417.00 421.50 427.33 433.00 439.17 445.00 451.67 458.67 464.83 470.00 475.17 481.33 486.50" y="354.80" font-size="10.4" text-anchor="middle" fill="#000">World Ag Weather</text>
</svg>
</div>
</body></html>
